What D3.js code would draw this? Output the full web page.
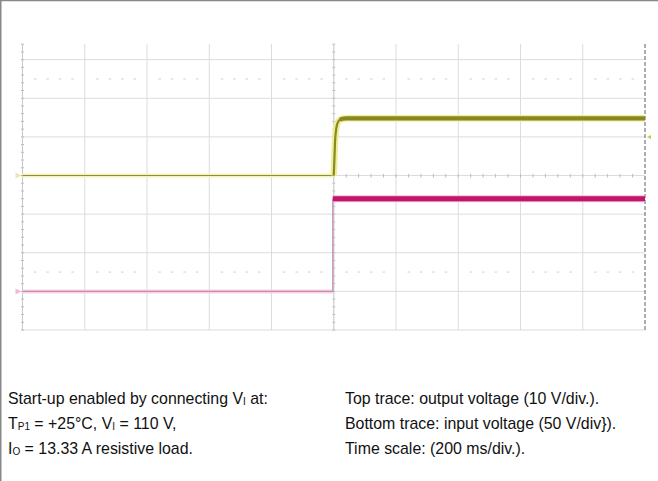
<!DOCTYPE html>
<html><head><meta charset="utf-8">
<script src="https://cdn.jsdelivr.net/npm/d3@7"></script>
<style>
html,body{margin:0;padding:0;background:#fff;}
svg{display:block;}
text{font-family:"Liberation Sans",Arial,Helvetica,sans-serif;fill:#111;}
</style></head>
<body>
<svg id="c" width="658" height="481"></svg>
<script>
// ---- data ----
// time in ms (200 ms/div, 10 divisions, trigger at centre)
const timeTicks = [-1000,-800,-600,-400,-200,0,200,400,600,800,1000];
// output voltage trace (10 V/div), relative to its ground marker
const outTime  = [-1000, 0, 2, 4, 7, 10, 14, 20, 28, 40, 1000];
const outVolts = [0, 0, 4, 8.5, 11.5, 13, 13.9, 14.4, 14.7, 14.8, 14.8];
// input voltage trace (50 V/div), relative to its ground marker
const inTime  = [-1000, -3, -3, 1000];
const inVolts = [0, 0, 120, 120];
// vertical graticule (divisions relative to centre)
const divRows = [-4,-3,-2,-1,0,1,2,3];
const leftNotes = [
  [["Start-up enabled by connecting V",null],["I","sub"],[" at:",null]],
  [["T",null],["P1","sub"],[" = +25°C, V",null],["I","sub"],[" = 110 V,",null]],
  [["I",null],["O","sub"],[" = 13.33 A resistive load.",null]]
];
const rightNotes = [
  "Top trace: output voltage (10 V/div.).",
  "Bottom trace: input voltage (50 V/div}).",
  "Time scale: (200 ms/div.)."
];

const svg = d3.select("#c");
// frame (top and left edges)
svg.append("line").attr("x1",0).attr("x2",658).attr("y1",0.5).attr("y2",0.5).attr("stroke","#888").attr("stroke-width",1.5);
svg.append("line").attr("x1",0.75).attr("x2",0.75).attr("y1",0).attr("y2",481).attr("stroke","#888").attr("stroke-width",1.5);

const x = d3.scaleLinear().domain([-1000,1000]).range([22.5,645]);
const div = d3.scaleLinear().domain([-4,4]).range([330,21]);
const yOut = d3.scaleLinear().domain([-40,40]).range([330,21]);   // 10 V/div, ground at centre
const yIn  = d3.scaleLinear().domain([-50,350]).range([330,21]);  // 50 V/div, ground at -3 div

const gTop = 44, gBot = 330;
const g = svg.append("g");

// vertical grid lines
g.selectAll("line.v").data(timeTicks.slice(1,-1)).join("line")
  .attr("x1",d=>x(d)).attr("x2",d=>x(d)).attr("y1",gTop).attr("y2",gBot)
  .attr("stroke","#dcdcdc").attr("stroke-width",1);
// horizontal grid lines
g.selectAll("line.h").data(divRows).join("line")
  .attr("x1",x(-1000)).attr("x2",x(1000)).attr("y1",d=>div(d)).attr("y2",d=>div(d))
  .attr("stroke","#dcdcdc").attr("stroke-width",1);

// dotted half-division rows
const minorX = d3.range(-1000,1000,40).filter(t=>t%200!==0);
[2.5,-2.5].forEach(r=>{
  g.selectAll(null).data(minorX).join("line")
    .attr("x1",d=>x(d)-1).attr("x2",d=>x(d)+1.5).attr("y1",div(r)).attr("y2",div(r))
    .attr("stroke","#d6d6d6").attr("stroke-width",1.2);
});
// ticks on centre horizontal axis (right half)
g.selectAll(null).data(d3.range(0,1000,40)).join("line")
  .attr("x1",d=>x(d)).attr("x2",d=>x(d)).attr("y1",div(0)-1.5).attr("y2",div(0)+2)
  .attr("stroke","#bbb").attr("stroke-width",1);
// ticks on left, centre vertical lines
const minorY = d3.range(-4,3.6,0.2).filter(v=>div(v)>=gTop);
[-1000,0].forEach(t=>{
  g.selectAll(null).data(minorY).join("line")
    .attr("x1",x(t)-1.5).attr("x2",x(t)+1.5).attr("y1",d=>div(d)).attr("y2",d=>div(d))
    .attr("stroke","#b8b8b8").attr("stroke-width",1);
});
// left and centre axis lines
g.append("line").attr("x1",x(-1000)).attr("x2",x(-1000)).attr("y1",gTop).attr("y2",gBot).attr("stroke","#c8c8c8");
g.append("line").attr("x1",x(0)).attr("x2",x(0)).attr("y1",gTop).attr("y2",gBot).attr("stroke","#d0d0d0");
// right edge dashed
g.append("line").attr("x1",x(1000)).attr("x2",x(1000)).attr("y1",gTop).attr("y2",gBot)
  .attr("stroke","#777").attr("stroke-width",1.2).attr("stroke-dasharray","4,2");

// ---- traces ----
const outPts = outTime.map((t,i)=>[t,outVolts[i]]);
const inPts  = inTime.map((t,i)=>[t,inVolts[i]]);
const lineOut = d3.line().x(d=>x(d[0])).y(d=>yOut(d[1])).curve(d3.curveMonotoneX);
const lineIn  = d3.line().x(d=>x(d[0])).y(d=>yIn(d[1]));

// input: low part thin pink, high part thick magenta
const inLow = inPts.slice(0,3);
g.append("path").attr("d",lineIn(inLow.slice(0,2))).attr("fill","none")
  .attr("stroke","#f6d4e8").attr("stroke-width",4);
g.append("path").attr("d",lineIn(inLow)).attr("fill","none")
  .attr("stroke","#c98ab0").attr("stroke-width",1.3);
g.append("path").attr("d",lineIn(inPts.slice(2))).attr("fill","none")
  .attr("stroke","#f0b8d6").attr("stroke-width",7);
g.append("path").attr("d",lineIn(inPts.slice(2))).attr("fill","none")
  .attr("stroke","#c2146a").attr("stroke-width",5);

// output
const outLow = outPts.filter(d=>d[0]<=0);
const outHigh = outPts.filter(d=>d[0]>=0);
g.append("path").attr("d",lineOut(outLow)).attr("fill","none")
  .attr("stroke","#f3f3b8").attr("stroke-width",4);
g.append("path").attr("d",lineOut(outLow)).attr("fill","none")
  .attr("stroke","#8e8e3a").attr("stroke-width",1.1);
g.append("path").attr("d",lineOut(outHigh)).attr("fill","none")
  .attr("stroke","#eeee9a").attr("stroke-width",6.5);
g.append("path").attr("d",lineOut(outHigh)).attr("fill","none")
  .attr("stroke","#8a8a22").attr("stroke-width",2.2);
g.append("path").attr("d",lineOut(outHigh.filter(d=>d[0]>=20))).attr("fill","none")
  .attr("stroke","#88881e").attr("stroke-width",4.2);

// channel markers
const mk = (cx,cy,col)=> g.append("path")
  .attr("d",`M${cx-6},${cy-3}L${cx},${cy}L${cx-6},${cy+3}Z`).attr("fill",col).attr("opacity",0.8);
mk(x(-1000)-1, yOut(0), "#e4e49a");
mk(x(-1000)-1, yIn(0), "#f0a8d0");
g.append("path").attr("d",`M${x(1000)+2},${div(1)}l4,-2l0,4Z`).attr("fill","#c8c84a");

// ---- notes ----
const baselines = [404,429,454];
const fs = 15.9;
leftNotes.forEach((parts,i)=>{
  const t = svg.append("text").attr("x",8).attr("y",baselines[i]).attr("font-size",fs);
  parts.forEach((p,j)=>{
    const s = t.append("tspan").text(p[0]);
    if(p[1]==="sub") s.attr("font-size",10).attr("dy",1);
    else if(j>0) s.attr("dy",-1);
  });
});
rightNotes.forEach((s,i)=>{
  svg.append("text").attr("x",345).attr("y",baselines[i]).attr("font-size",fs).text(s);
});
</script>
</body></html>
